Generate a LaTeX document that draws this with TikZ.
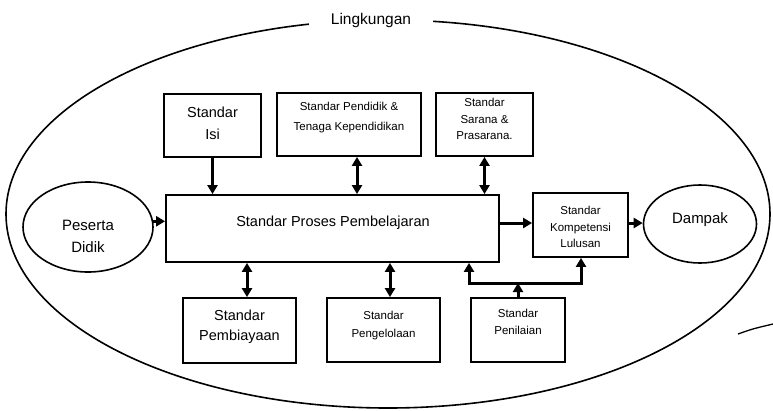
\documentclass[tikz,border=0pt]{standalone}
\usepackage{fontspec}
\setmainfont{Liberation Sans}
\usetikzlibrary{arrows.meta,shapes.geometric,calc}
\tikzset{
  box/.style={draw, line width=1.8pt, inner sep=0pt},
  oval/.style={draw, ellipse, line width=1.6pt, inner sep=0pt},
  bigtxt/.style={align=center, font=\fontsize{14.5}{22}\selectfont, inner sep=0pt},
  smalltxt/.style={align=center, font=\fontsize{11.5}{16.5}\selectfont, inner sep=0pt},
  tip/.tip={Triangle[width=10pt,length=9pt]},
  arr/.style={line width=3pt, -tip},
  darr/.style={line width=3pt, tip-tip},
  bar/.style={line width=3pt, line cap=rect}
}
\begin{document}
\begin{tikzpicture}[x=1pt,y=-1pt]
\useasboundingbox (0,0) rectangle (773,410);
% environment ellipse
\draw[line width=1.6pt] (388,214) ellipse [x radius=382, y radius=194];
\node[fill=white, minimum width=124pt, inner ysep=4pt, font=\fontsize{15.5}{18}\selectfont] (ling) at (371,20) {Lingkungan};
% boxes
\node[box, minimum width=97pt, minimum height=63pt] (isi) at (212.5,125.5) {};
\node[bigtxt] (isit) at (212.5,123) {Standar\\Isi};
\node[box, minimum width=144pt, minimum height=63pt] (pend) at (349,124.5) {};
\node[smalltxt, font=\fontsize{11.5}{20}\selectfont] (pendt) at (349,118) {Standar Pendidik \&\\Tenaga Kependidikan};
\node[box, minimum width=97pt, minimum height=63pt] (sar) at (484.5,124.5) {};
\node[smalltxt] (sart) at (484.5,119) {Standar\\Sarana \&\\Prasarana.};
\node[box, minimum width=333pt, minimum height=67pt] (main) at (332.5,228.5) {};
\node[bigtxt] (maint) at (333,223) {Standar Proses Pembelajaran};
\node[box, minimum width=95pt, minimum height=64pt] (skl) at (580.5,225) {};
\node[smalltxt] (sklt) at (580.5,227) {Standar\\Kompetensi\\Lulusan};
\node[box, minimum width=113pt, minimum height=65pt] (pemb) at (239.5,330.5) {};
\node[bigtxt, font=\fontsize{14.5}{20}\selectfont] (pembt) at (239.5,327) {Standar\\Pembiayaan};
\node[box, minimum width=113pt, minimum height=64pt] (peng) at (383.5,330) {};
\node[smalltxt, font=\fontsize{11.5}{18}\selectfont] (pengt) at (383.5,326) {Standar\\Pengelolaan};
\node[box, minimum width=94pt, minimum height=64pt] (pen) at (518,330) {};
\node[smalltxt, font=\fontsize{11.5}{17}\selectfont] (pent) at (518,321.5) {Standar\\Penilaian};
\node[oval, minimum width=130pt, minimum height=90pt] (pes) at (88,227) {};
\node[bigtxt, font=\fontsize{15}{22}\selectfont] (pest) at (88,236) {Peserta\\Didik};
\node[oval, minimum width=113pt, minimum height=78pt] (dam) at (700,224) {};
\node[bigtxt, font=\fontsize{15}{18}\selectfont] (damt) at (700,220) {Dampak};
% connectors
\draw[arr] (isi.south) -- (isi.south |- main.north);
\draw[darr] ([xshift=8pt]pend.south) -- ([xshift=8pt]pend.south |- main.north);
\draw[darr] (sar.south) -- (sar.south |- main.north);
\draw[arr] (pes.5) -- (pes.5 -| main.west);
\draw[arr] ([yshift=5.5pt]main.east) -- ([yshift=5.5pt]main.east -| skl.west);
\draw[arr] ([yshift=2pt]skl.east) -- ([yshift=2pt]skl.east -| dam.west);
\draw[darr] (pemb.north -| 247,0) -- (main.south -| 247,0);
\draw[darr] (peng.north -| 390,0) -- (main.south -| 390,0);
\coordinate (jl) at (469,283);
\coordinate (jr) at (581,283);
\draw[arr] (pen.north) -- (pen.north |- jl);
\draw[bar] (jl) -- (jr);
\draw[arr] (jl) -- (jl |- main.south);
\draw[arr] (jr) -- (jr |- skl.south);
% stray stroke at lower right
\coordinate (s1) at (738,334);
\coordinate (s2) at (773,324);
\draw[line width=1.3pt] (s1) .. controls (752,329) .. (s2);
\end{tikzpicture}
\end{document}
